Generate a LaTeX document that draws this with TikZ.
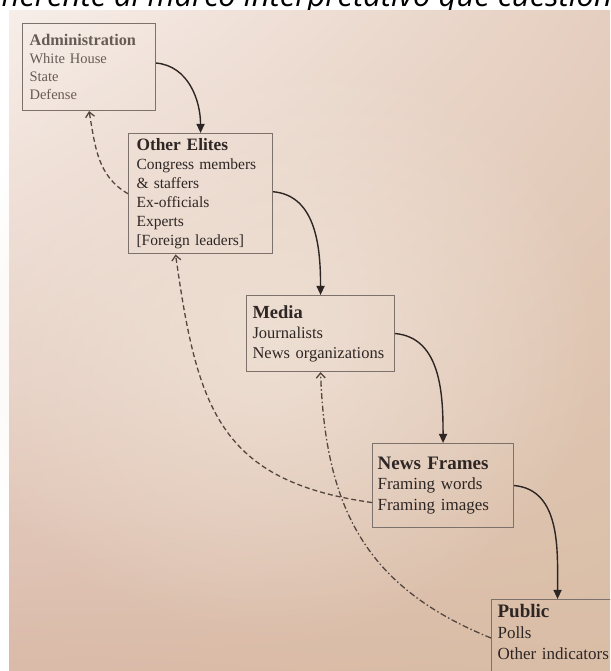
\documentclass[tikz,border=0pt]{standalone}
\usepackage{fontspec}
\setmainfont{Liberation Serif}
\newfontfamily\pagefont{Open Sans}
\usetikzlibrary{arrows.meta,calc,positioning,shadings,fadings}
\definecolor{paperhi}{HTML}{F7EEE9}
\definecolor{paperright}{HTML}{E5CEBF}
\definecolor{paperlo}{HTML}{DABAA9}
\definecolor{paperlr}{HTML}{D9BDA5}
\definecolor{paperglow}{HTML}{F0E3D8}
\definecolor{frameline}{HTML}{7D716B}
\definecolor{inkdark}{HTML}{2E2624}
\definecolor{inksoft}{HTML}{675B55}
\definecolor{dashink}{HTML}{54463F}
\tikzfading[name=softglow, inner color=transparent!0, outer color=transparent!100]
\newcommand{\hd}[1]{\textbf{\scalebox{1.12}{#1}}}

\begin{document}
\begin{tikzpicture}[x=1pt,y=1pt,
  actor/.style={draw=frameline, line width=1.1pt, anchor=north west, align=left, inner ysep=5pt, text=inkdark},
  flow/.style={-{Triangle[length=9pt,width=8pt]}, line width=1.4pt, draw=inkdark},
  feedback/.style={-{Straight Barb[length=5pt,width=9pt]}, line width=1.3pt, draw=dashink, dash pattern=on 5pt off 3pt}]
\useasboundingbox (0,0) rectangle (610,671);
\clip (0,0) rectangle (610,671);
% page text above the photo, partly hidden
\node[anchor=base west, inner sep=0, text=black, font=\pagefont\itshape\fontsize{31}{36}\selectfont] (pagetext) at (-30,664.5) {coherente al marco interpretativo que cuestiona};
% photographed page
\shade[upper left=paperhi, upper right=paperright, lower left=paperlo, lower right=paperlr] (9,0) rectangle (610,660);
\fill[paperglow, path fading=softglow, fill opacity=0.8] (270,330) ellipse [x radius=330, y radius=300];

% actors
\node[actor, text=inksoft, minimum width=133, minimum height=87, text width=119, inner xsep=7pt, font=\fontsize{14.5}{18}\selectfont] (admin) at (22,648) {\hd{Administration}\\White House\\State\\Defense};
\node[actor, minimum width=144, minimum height=119, text width=128, inner xsep=8pt, font=\fontsize{15.5}{19}\selectfont] (elites) at (128,538) {\hd{Other Elites}\\Congress members\\\& staffers\\Ex-officials\\Experts\\{[Foreign leaders]}};
\node[actor, minimum width=148, minimum height=76, text width=136, inner xsep=6pt, font=\fontsize{16.5}{20}\selectfont] (media) at (246,376) {\hd{Media}\\Journalists\\News organizations};
\node[actor, minimum width=141, minimum height=84, text width=131, inner xsep=5pt, font=\fontsize{17}{20.5}\selectfont] (frames) at (372,228) {\hd{News Frames}\\Framing words\\Framing images};
\node[actor, minimum width=132, text width=120, inner xsep=6pt, font=\fontsize{17}{21}\selectfont] (public) at (491,72) {\hd{Public}\\Polls\\Other indicators\\\mbox{}};

% cascade
\draw[flow] ([yshift=4]admin.east) to[out=-5,in=90] (elites.north);
\draw[flow] ([yshift=2]elites.east) to[out=-5,in=90] (media.north);
\draw[flow] (media.east) to[out=-5,in=90] (frames.north);
\draw[flow] (frames.east) to[out=-5,in=90] (public.north);

% feedback
\draw[feedback] (elites.west) to[out=150,in=-80] (admin.south);
\draw[feedback] ([yshift=-17]frames.west) to[out=172,in=-82,looseness=1.25] ([xshift=-25]elites.south);
\draw[feedback, dash pattern=on 6pt off 2.5pt on 1.5pt off 2.5pt] ($(public.north west)+(0,-39)$) to[out=158,in=-88,looseness=1.1] (media.south);
\end{tikzpicture}
\end{document}
